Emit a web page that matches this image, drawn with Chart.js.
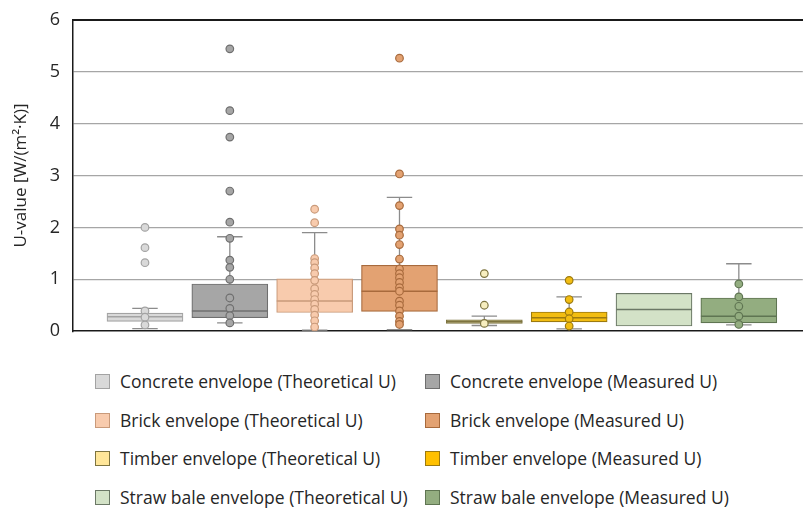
<!DOCTYPE html>
<html>
<head>
<meta charset="utf-8">
<script src="https://cdn.jsdelivr.net/npm/chart.js@4"></script>
<style>
  body { margin: 0; background: #fff; font-family: "Open Sans", sans-serif; }
  #wrap { position: relative; width: 803px; height: 509px; overflow: hidden; }
  #uChart { position: absolute; left: 0; top: -3.8px; }
  #topEdge { position: absolute; left: 73px; top: 19px; width: 730px; height: 2px; background: #1a1a1a; z-index: 5; }
  .leg { position: absolute; display: flex; align-items: center; font-size: 17.5px; color: #262626; white-space: nowrap; }
  .leg span.sw { width: 15px; height: 15px; border: 1px solid; margin-right: 10px; box-sizing: border-box; }
</style>
</head>
<body>
<div id="wrap">
  <canvas id="uChart" width="808" height="359"></canvas>
  <div id="topEdge"></div>
  <div id="legend"></div>
</div>
<script>
// U-value box plots by envelope type
const categories = [
  'Concrete envelope (Theoretical U)', 'Concrete envelope (Measured U)',
  'Brick envelope (Theoretical U)', 'Brick envelope (Measured U)',
  'Timber envelope (Theoretical U)', 'Timber envelope (Measured U)',
  'Straw bale envelope (Theoretical U)', 'Straw bale envelope (Measured U)'
];
const q1Values = [0.19, 0.26, 0.36, 0.38, 0.15, 0.18, 0.10, 0.16];
const q3Values = [0.35, 0.91, 1.01, 1.27, 0.22, 0.37, 0.73, 0.64];
const medianValues = [0.28, 0.39, 0.58, 0.77, 0.18, 0.26, 0.42, 0.29];
const whiskerLow = [0.05, 0.16, 0.02, 0.03, 0.11, 0.045, 0.10, 0.12];
const whiskerHigh = [0.44, 1.82, 1.90, 2.58, 0.29, 0.66, 0.73, 1.30];
const pointValues = [
  [2.0, 1.61, 1.32, 0.39, 0.27, 0.12],
  [5.44, 4.25, 3.74, 2.70, 2.10, 1.79, 1.37, 1.23, 1.00, 0.64, 0.44, 0.30, 0.16],
  [2.35, 2.09, 1.40, 1.32, 1.22, 1.11, 0.98, 0.82, 0.71, 0.61, 0.52, 0.42, 0.31, 0.20, 0.08],
  [5.26, 3.03, 2.42, 1.97, 1.85, 1.67, 1.39, 1.20, 1.11, 1.03, 0.94, 0.84, 0.77, 0.58, 0.50, 0.39, 0.29, 0.19, 0.13],
  [1.11, 0.50, 0.15],
  [0.98, 0.61, 0.37, 0.24, 0.10],
  [],
  [0.91, 0.66, 0.48, 0.29, 0.13]
];
const yTicks = [0, 1, 2, 3, 4, 5, 6];

// styling
const fillColors = ['#d9d9d9', '#a6a6a6', '#f8cbad', '#e3a272', '#f7eebf', '#f2bd12', '#d3e2c7', '#93ad80'];
const edgeColors = ['#a3a3a3', '#6f6f6f', '#c99a7a', '#a86a3c', '#7d7440', '#9c7a10', '#6b7866', '#5f7552'];
const swatchFills = ['#d9d9d9', '#a6a6a6', '#f8cbad', '#e3a272', '#ffe699', '#ffc000', '#d3e2c7', '#93ad80'];
const BOX_PX = 76;
const BOX_HALF = 0.447;   // in x units (85 px per category)
const CAP_HALF = 0.15;

const datasets = [];
categories.forEach((name, i) => {
  datasets.push({
    type: 'bar',
    label: name,
    data: [{ x: i, y: [q1Values[i], q3Values[i]] }],
    backgroundColor: fillColors[i],
    borderColor: edgeColors[i],
    borderWidth: 1.2,
    borderSkipped: false,
    barThickness: BOX_PX,
    grouped: false,
    order: 3
  });
  datasets.push({
    type: 'line',
    label: name + ' median',
    data: [{ x: i - BOX_HALF, y: medianValues[i] }, { x: i + BOX_HALF, y: medianValues[i] }],
    borderColor: edgeColors[i],
    borderWidth: 1.5,
    pointRadius: 0,
    order: 2
  });
  const w = [];
  if (whiskerHigh[i] > q3Values[i]) {
    w.push({ x: i, y: q3Values[i] }, { x: i, y: whiskerHigh[i] }, { x: i, y: null },
           { x: i - CAP_HALF, y: whiskerHigh[i] }, { x: i + CAP_HALF, y: whiskerHigh[i] }, { x: i, y: null });
  }
  if (whiskerLow[i] < q1Values[i]) {
    w.push({ x: i, y: q1Values[i] }, { x: i, y: whiskerLow[i] }, { x: i, y: null },
           { x: i - CAP_HALF, y: whiskerLow[i] }, { x: i + CAP_HALF, y: whiskerLow[i] });
  }
  datasets.push({
    type: 'line',
    label: name + ' whisker',
    data: w,
    borderColor: '#8c8c8c',
    borderWidth: 1.3,
    pointRadius: 0,
    spanGaps: false,
    order: 2
  });
  datasets.push({
    type: 'scatter',
    label: name + ' points',
    data: pointValues[i].map(v => ({ x: i, y: v })),
    backgroundColor: fillColors[i],
    borderColor: edgeColors[i],
    borderWidth: 1.2,
    pointRadius: 3.8,
    order: 1
  });
});

const ctx = document.getElementById('uChart');
const chart = new Chart(ctx, {
  data: { datasets: datasets },
  options: {
    responsive: false,
    animation: false,
    layout: { padding: { top: 12.7, bottom: 3, left: 0, right: 0 } },
    plugins: { legend: { display: false }, tooltip: { enabled: false } },
    scales: {
      x: {
        type: 'linear',
        offset: false,
        min: -0.8485,
        max: 7.754,
        ticks: { display: false },
        grid: { display: true, color: 'rgba(0,0,0,0)', drawTicks: false },
        border: { display: true, color: '#1a1a1a', width: 1.5 },
        afterFit: s => { s.height = 0; }
      },
      y: {
        min: 0,
        max: 6,
        afterBuildTicks: s => { s.ticks = yTicks.map(v => ({ value: v })); },
        ticks: { font: { family: 'Open Sans', size: 18 }, color: '#262626', padding: 13 },
        grid: {
          drawTicks: false,
          color: c => c.tick.value === 6 ? '#1a1a1a' : (c.tick.value === 0 ? 'rgba(0,0,0,0)' : '#a6a6a6'),
          lineWidth: c => c.tick.value === 6 ? 2 : 1.3
        },
        border: { display: true, color: '#1a1a1a', width: 1.5 },
        title: {
          display: true,
          text: 'U-value [W/(m²·K)]',
          font: { family: 'Open Sans', size: 17 },
          color: '#262626',
          padding: { top: 11, bottom: 0 }
        },
        afterFit: s => { s.width = 73; }
      }
    }
  }
});

// two-column legend below the plot
const legend = document.getElementById('legend');
const rowY = [381, 420, 458, 497];
const colX = [95, 425];
chart.data.datasets.filter(d => d.type === 'bar').forEach((d, k) => {
  const item = document.createElement('div');
  item.className = 'leg';
  item.style.left = colX[k % 2] + 'px';
  item.style.top = (rowY[Math.floor(k / 2)] - 11) + 'px';
  item.style.height = '22px';
  const sw = document.createElement('span');
  sw.className = 'sw';
  sw.style.background = swatchFills[k];
  sw.style.borderColor = edgeColors[k];
  item.appendChild(sw);
  item.appendChild(document.createTextNode(d.label));
  legend.appendChild(item);
});
</script>
</body>
</html>
